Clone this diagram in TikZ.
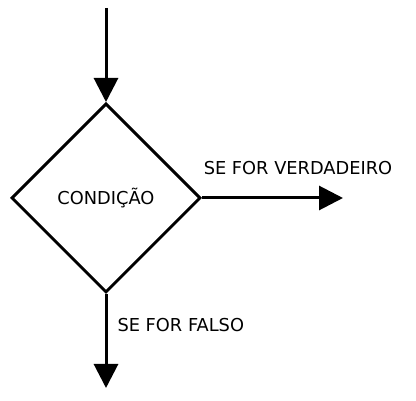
\documentclass[tikz,border=0pt]{standalone}
\usepackage{fontspec}
\setmainfont{DejaVu Sans}
\usepackage{tikz}
\usetikzlibrary{shapes.geometric,arrows.meta}
\newcommand{\drawarrow}{\draw[line width=3pt,-{Triangle[length=24pt,width=24pt]}]}
\newcommand{\labeltext}[3]{\node[anchor=#3] at (#2) {#1};}
\tikzset{decision/.style={diamond,draw,line width=3pt,inner sep=0pt,
    minimum width=189pt,minimum height=189pt}}
\begin{document}
\begin{tikzpicture}[x=1pt,y=-1pt,font=\fontsize{17.8}{20}\selectfont]
\useasboundingbox (0,0) rectangle (416,401);
\node[decision] (cond) at (106,198) {CONDIÇÃO};
\coordinate (start) at (106,8);
\coordinate (yes) at (343,198);
\coordinate (no) at (106,388);
    \drawarrow (start)--(cond.north);
    \drawarrow (cond.east)--(yes);
    \drawarrow (cond.south)--(no);
\labeltext{SE FOR VERDADEIRO}{298,168}{center}\labeltext{SE FOR FALSO}{114,325}{west}\end{tikzpicture}
\end{document}
